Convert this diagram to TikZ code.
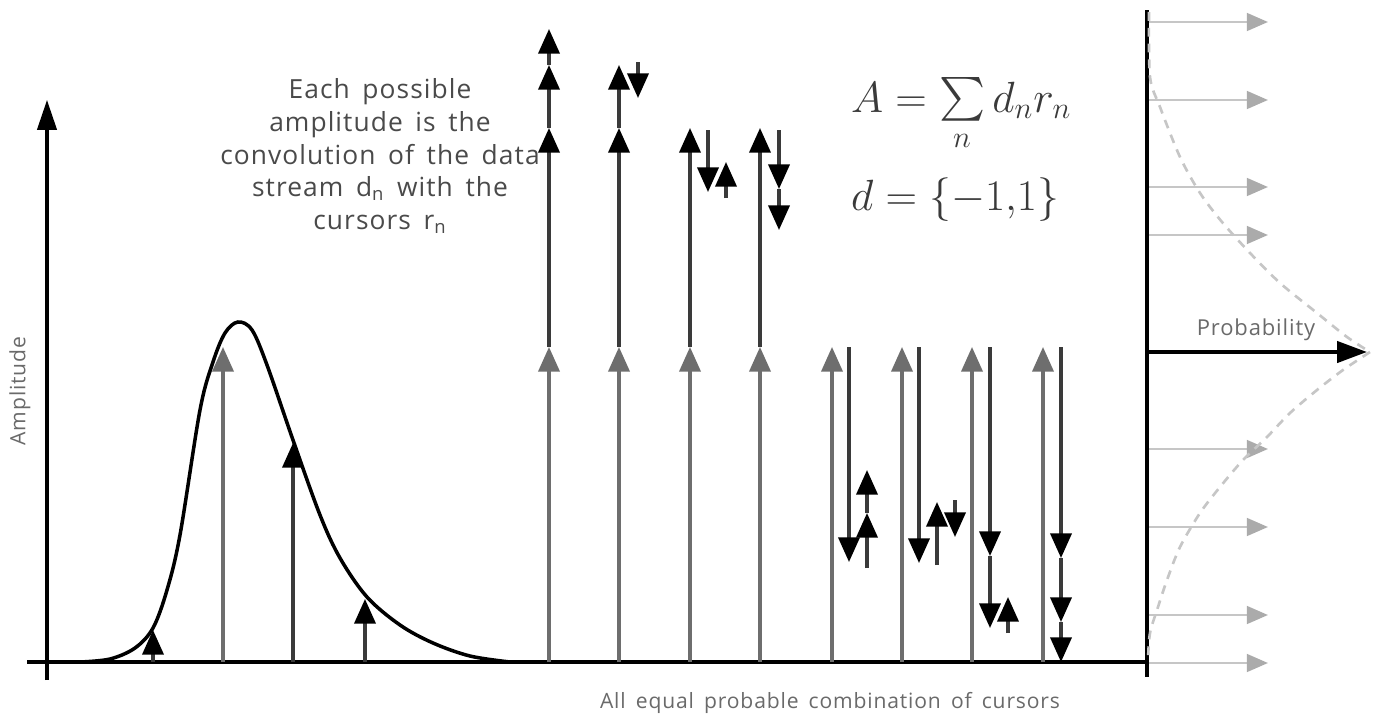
\documentclass[tikz,border=0pt]{standalone}
\usepackage{exscale}
\usepackage{fontspec}
\setmainfont{Open Sans}
\newfontfamily\comic[LetterSpace=4,WordSpace=1.6]{Open Sans}
\usetikzlibrary{arrows.meta}
\definecolor{ink}{HTML}{3A3A3A}
\definecolor{gcur}{HTML}{6E6E6E}
\definecolor{pgray}{HTML}{C6C6C6}
\definecolor{pgrayhead}{HTML}{ABABAB}
\definecolor{txt}{HTML}{4A4A4A}
\definecolor{lgray}{HTML}{6A6A6A}
\begin{document}
\begin{tikzpicture}[x=0.02cm,y=-0.02cm,
  axis/.style={line width=2.2pt, draw=black},
  bk/.style={draw=ink, line width=1.9pt, -{Triangle[length=14pt,width=12pt,color=black]}},
  gy/.style={draw=gcur, line width=1.9pt, -{Triangle[length=14pt,width=12pt,color=gcur]}},
  pr/.style={draw=pgray, line width=1.6pt, -{Triangle[length=12pt,width=10pt,color=pgrayhead]}},
  lbl/.style={text=txt, font=\comic\fontsize{15}{18.7}\selectfont, align=center},
  small/.style={text=lgray, font=\comic\fontsize{12}{14}\selectfont},
  dashline/.style={draw=pgray, line width=1.5pt, dash pattern=on 5pt off 4pt},
  formula/.style={anchor=base west, text=ink, font=\fontsize{27}{32}\selectfont},
]
\fill[white] (0,0) rectangle (1377,717);
\useasboundingbox (0,0) rectangle (1377,717);

% axes
\coordinate (o) at (47,662);
\coordinate (ytop) at (47,100);
\coordinate (ybot) at (47,680);
\coordinate (xl) at (27,662);
\coordinate (xr) at (1147,662);
\coordinate (rtop) at (1147,10);
\coordinate (rbot) at (1147,677);
\coordinate (pstart) at (1147,352);
\coordinate (pend) at (1367,352);
\draw[axis, line width=1.8pt, -{Triangle[length=17pt,width=11pt,color=black]}] (ybot) -- (ytop);
\draw[axis] (xl) -- (xr);
\draw[axis] (rtop) -- (rbot);
\draw[axis, -{Triangle[length=17pt,width=12pt,color=black]}] (pstart) -- (pend);

% pulse
\draw[line width=2pt] plot[smooth,tension=0.55] coordinates{(80,662) (110,659) (135,648) (153,628) (167,590) (180,535) (200,410) (213,362) (225,333) (238,322) (252,330) (267,365) (293,440) (320,515) (340,558) (367,597) (400,625) (433,643) (470,656) (510,662)};
\draw[bk] (153,662) -- (153,630);
\draw[gy] (223,662) -- (223,347);
\draw[bk] (293,662) -- (293,443);
\draw[bk] (365,662) -- (365,599);

% column 1
\draw[gy] (549,662) -- (549,347);
\draw[bk] (549,347) -- (549,128);
\draw[bk] (549,128) -- (549,65);
\draw[bk] (549,65) -- (549,29);
% column 2
\draw[gy] (619,662) -- (619,347);
\draw[bk] (619,347) -- (619,128);
\draw[bk] (619,128) -- (619,65);
\draw[bk] (638,62) -- (638,98);
% column 3
\draw[gy] (690,662) -- (690,347);
\draw[bk] (690,347) -- (690,128);
\draw[bk] (708,130) -- (708,192);
\draw[bk] (726,198) -- (726,162);
% column 4
\draw[gy] (760,662) -- (760,347);
\draw[bk] (760,347) -- (760,128);
\draw[bk] (779,130) -- (779,189);
\draw[bk] (779,189) -- (779,230);
% column 5
\draw[gy] (832,662) -- (832,347);
\draw[bk] (849,347) -- (849,562);
\draw[bk] (867,568) -- (867,513);
\draw[bk] (867,513) -- (867,470);
% column 6
\draw[gy] (902,662) -- (902,347);
\draw[bk] (919,347) -- (919,563);
\draw[bk] (937,565) -- (937,502);
\draw[bk] (955,500) -- (955,537);
% column 7
\draw[gy] (972,662) -- (972,347);
\draw[bk] (990,347) -- (990,556);
\draw[bk] (990,556) -- (990,628);
\draw[bk] (1008,633) -- (1008,597);
% column 8
\draw[gy] (1043,662) -- (1043,347);
\draw[bk] (1061,347) -- (1061,558);
\draw[bk] (1061,558) -- (1061,622);
\draw[bk] (1061,622) -- (1061,662);

% probability side
\foreach \yy in {22,100,187,235,449,527,615,663}
  \draw[pr] (1149,\yy) -- (1268,\yy);
\draw[dashline] plot[smooth,tension=0.5] coordinates {(1149,12) (1150,77) (1160,107) (1180,157) (1200,193) (1222,222) (1250,253) (1280,283) (1317,313) (1347,337) (1370,352)};
\draw[dashline] plot[smooth,tension=0.5] coordinates {(1370,352) (1343,370) (1317,390) (1290,413) (1267,437) (1243,460) (1220,487) (1200,513) (1180,547) (1167,580) (1158,607) (1150,633) (1148,660)};

% texts
\node[lbl] (desc) at (380,156) {Each possible\\amplitude is the\\convolution of the data\\stream d\textsubscript{n} with the\\cursors r\textsubscript{n}};
\node[formula] (fA) at (845,112) {$A=\mathop{\raisebox{0.8pt}{\fontsize{23}{28}\selectfont$\sum$}}\limits_n d_n r_n$};
\node[formula] (fd) at (845,210) {$d=\{-1,\!1\}$};
\node[small, rotate=90] (amp) at (20,391) {Amplitude};
\node[small, font=\comic\fontsize{12.5}{14}\selectfont] (prob) at (1256,330) {Probability};
\node[small] (xlab) at (830,703) {All equal probable combination of cursors};
\end{tikzpicture}
\end{document}
